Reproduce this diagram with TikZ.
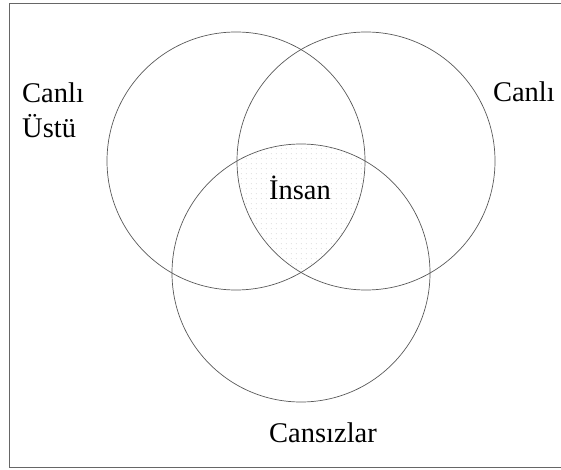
\documentclass[tikz,border=0pt]{standalone}
\usepackage{fontspec}
\setmainfont{Liberation Serif}
\usetikzlibrary{patterns}
\pgfdeclarepatternformonly{sparsedots}{\pgfpointorigin}{\pgfqpoint{5pt}{5pt}}{\pgfqpoint{5pt}{5pt}}{\pgfpathcircle{\pgfqpoint{1.5pt}{1.5pt}}{0.55pt}\pgfusepath{fill}}
\begin{document}
\begin{tikzpicture}[x=1pt,y=-1pt,
  venn/.style={draw=black!65,line width=0.7pt},
  label/.style={inner sep=0pt,font=\fontsize{28.5}{34}\selectfont}]
\useasboundingbox (0,0) rectangle (561,470);
\draw[black!60,line width=0.9pt] (561,3) -- (9,3) -- (9,467) -- (561,467);
\coordinate (L) at (236,161);
\coordinate (R) at (366,161);
\coordinate (B) at (301,273);
\begin{scope}
  \clip (L) circle (129);
  \clip (R) circle (129);
  \fill[pattern=sparsedots,pattern color=black!30] (B) circle (129);
\end{scope}
\draw[venn] (L) circle (129);
\draw[venn] (R) circle (129);
\draw[venn] (B) circle (129);
\node[label,anchor=base west] (cu1) at (22,103) {Canlı};
\node[label,anchor=base west] (cu2) at (22,138) {Üstü};
\node[label,anchor=base east] (c) at (555,102) {Canlı};
\node[label,anchor=base] (i) at (300,200) {İnsan};
\node[label,anchor=base] (cs) at (323,442) {Cansızlar};
\end{tikzpicture}
\end{document}
